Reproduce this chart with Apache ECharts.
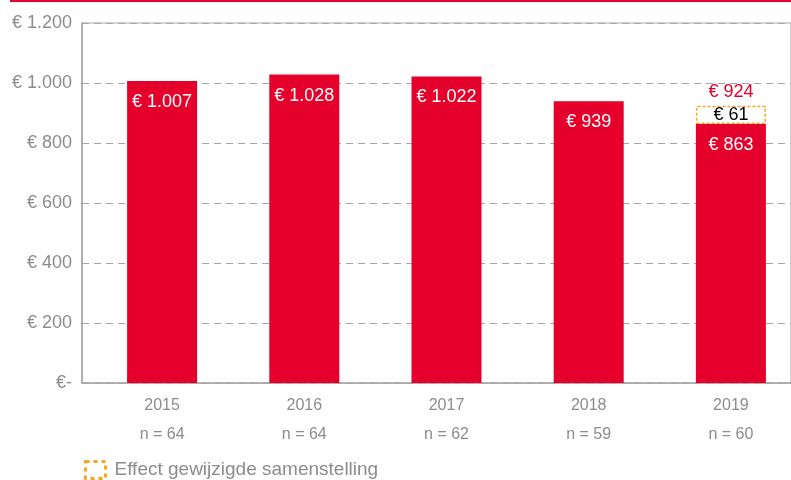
<!DOCTYPE html>
<html><head><meta charset="utf-8">
<script src="https://cdn.jsdelivr.net/npm/echarts@6/dist/echarts.min.js"></script>
<style>html,body{margin:0;padding:0;background:#fff}#c{width:791px;height:480px}</style>
</head><body><div id="c"></div>
<script>
const years = ['2015','2016','2017','2018','2019'];
const counts = ['n = 64','n = 64','n = 62','n = 59','n = 60'];
const baseValues = [1007, 1028, 1022, 939, 863];
const effectValues = [null, null, null, null, 61];
const totalValues = [null, null, null, null, 924];
const legendName = 'Effect gewijzigde samenstelling';

const RED = '#e5002b', GRAY = '#8c8c8c', ORANGE = '#f5a623', LINE = '#a6a6a6';
const fmt = v => v.toString().replace(/\B(?=(\d{3})+(?!\d))/g, '.');
const font = '"Liberation Sans", Arial, sans-serif';

const chart = echarts.init(document.getElementById('c'), null, {renderer: 'canvas'});
chart.setOption({
  animation: false,
  textStyle: {fontFamily: font},
  grid: [
    {left: 91, width: 711, top: 23, bottom: 97, outerBoundsMode: 'none', containLabel: false},
    {left: 82, right: 0, top: 23, bottom: 97, show: true, borderColor: LINE, borderWidth: 1, outerBoundsMode: 'none', containLabel: false}
  ],
  graphic: [{type: 'line', shape: {x1: 10, y1: 1, x2: 791, y2: 1}, style: {stroke: RED, lineWidth: 2}}],
  legend: {
    left: 79, top: 455, itemWidth: 20, itemHeight: 17, itemGap: 14, icon: 'rect',
    data: [{name: legendName, itemStyle: {color: '#fff', borderColor: ORANGE, borderWidth: 3, borderType: [4, 4]}}],
    textStyle: {color: GRAY, fontSize: 19, fontFamily: font, padding: [0, 0, 0, 4]}
  },
  xAxis: [
    {gridIndex: 0, type: 'category', data: years.map((y, i) => y + '\n' + counts[i]),
      axisLine: {show: false}, axisTick: {show: false},
      axisLabel: {color: GRAY, fontSize: 16, lineHeight: 29, margin: 8, fontFamily: font}},
    {gridIndex: 1, type: 'value', min: 0, max: 1, show: true,
      axisLine: {show: true, lineStyle: {color: LINE, width: 1.5}}, axisTick: {show: false},
      axisLabel: {show: false}, splitLine: {show: false}}
  ],
  yAxis: [
    {gridIndex: 0, type: 'value', min: 0, max: 1200, interval: 200, show: false, splitLine: {show: false}},
    {gridIndex: 1, type: 'value', min: 0, max: 1200, interval: 200,
      axisLine: {show: true, lineStyle: {color: LINE, width: 1.5}}, axisTick: {show: false},
      axisLabel: {color: GRAY, fontSize: 18, margin: 10, fontFamily: font,
        formatter: v => v === 0 ? '€-' : '€ ' + fmt(v)},
      splitLine: {show: true, lineStyle: {color: LINE, type: [7, 5], width: 1}}}
  ],
  series: [
    {name: 'base', type: 'bar', stack: 's', barWidth: 70, data: baseValues,
      itemStyle: {color: RED},
      label: {show: true, position: 'insideTop', distance: 12, color: '#fff', fontSize: 18, fontFamily: font,
        formatter: p => '€ ' + fmt(p.value)}},
    {name: legendName, type: 'bar', stack: 's', barWidth: 70, data: effectValues,
      itemStyle: {color: '#fff', borderColor: ORANGE, borderWidth: 1.5, borderType: [3, 2]},
      label: {show: true, position: 'inside', color: '#000', fontSize: 18, fontFamily: font,
        formatter: p => p.value == null ? '' : '€ ' + fmt(p.value)}},
    {name: 'total', type: 'bar', stack: 's', barWidth: 70, data: totalValues.map(v => v == null ? null : 0),
      itemStyle: {color: 'transparent'},
      label: {show: true, position: 'top', distance: 5, color: RED, fontSize: 18, fontFamily: font,
        formatter: p => totalValues[p.dataIndex] == null ? '' : '€ ' + fmt(totalValues[p.dataIndex])}}
  ]
});
</script></body></html>
